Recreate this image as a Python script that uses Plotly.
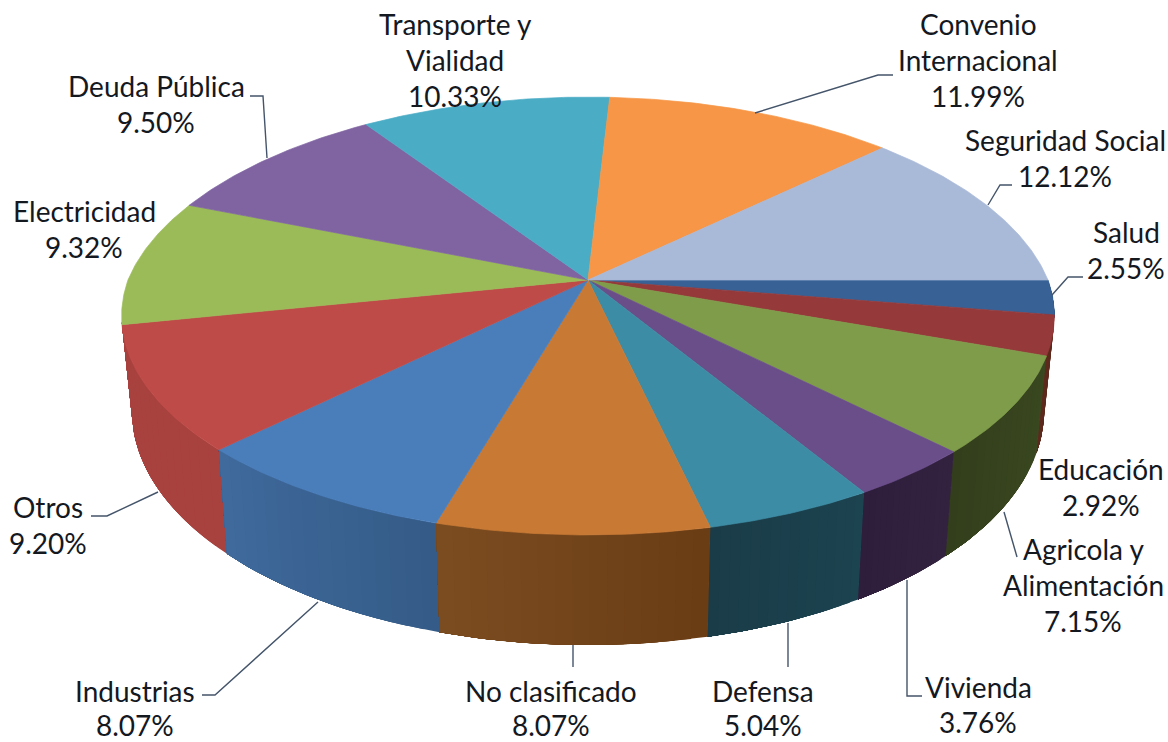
import numpy as np
import plotly.graph_objects as go

categories = [
    "Salud", "Educación", "Agricola y Alimentación", "Vivienda", "Defensa",
    "No clasificado", "Industrias", "Otros", "Electricidad", "Deuda Pública",
    "Transporte y Vialidad", "Convenio Internacional", "Seguridad Social",
]
values = [2.55, 2.92, 7.15, 3.76, 5.04, 8.07, 8.07, 9.20, 9.32, 9.50, 10.33, 11.99, 12.12]

top_colors = [
    "#386296", "#95393a", "#7f9c4a", "#6a4e8a", "#3d8ca5", "#c87a35", "#4a7ebb",
    "#be4b48", "#9bbb59", "#8064a2", "#4bacc6", "#f79646", "#a9b9d8",
]
# wall shading, left end and right end as seen on screen
wall_colors = [
    ("#2b4a70", "#2b4a70"), ("#5e2a1e", "#5e2a1e"), ("#333f1c", "#3a4820"),
    ("#2e1e3c", "#33223f"), ("#1a3c48", "#1c4350"), ("#7c4c20", "#6a3d15"),
    ("#3f6a9c", "#355c88"), ("#a8423f", "#a8423f"), ("#a8423f", "#a8423f"),
    ("#ffffff", "#ffffff"), ("#ffffff", "#ffffff"), ("#ffffff", "#ffffff"),
    ("#ffffff", "#ffffff"),
]

# text lines of each label, with the centre of the first line in pixels
label_lines = {
    "Salud": ["Salud"],
    "Educación": ["Educación"],
    "Agricola y Alimentación": ["Agricola y", "Alimentación"],
    "Vivienda": ["Vivienda"],
    "Defensa": ["Defensa"],
    "No clasificado": ["No clasificado"],
    "Industrias": ["Industrias"],
    "Otros": ["Otros"],
    "Electricidad": ["Electricidad"],
    "Deuda Pública": ["Deuda Pública"],
    "Transporte y Vialidad": ["Transporte y", "Vialidad"],
    "Convenio Internacional": ["Convenio", "Internacional"],
    "Seguridad Social": ["Seguridad Social"],
}
label_pos = {
    "Salud": (1126, 232), "Educación": (1101, 469), "Agricola y Alimentación": (1083, 549),
    "Vivienda": (978, 687), "Defensa": (763, 691), "No clasificado": (551, 691),
    "Industrias": (135, 691), "Otros": (48, 507), "Electricidad": (84, 211),
    "Deuda Pública": (156, 86), "Transporte y Vialidad": (455, 24),
    "Convenio Internacional": (978, 24), "Seguridad Social": (1065, 140),
}
# the bottom row sits a little tighter so it stays inside the page
label_gap = {"Defensa": 34, "No clasificado": 34, "Industrias": 34, "Vivienda": 35}
leaders = [
    [(755, 113), (878, 75), (893, 75)],
    [(988, 205), (1000, 185), (1012, 185)],
    [(1052, 295), (1068, 277), (1083, 277)],
    [(1004, 512), (1017, 557)],
    [(907, 580), (907, 696), (922, 696)],
    [(788, 623), (788, 667)],
    [(573, 645), (573, 667)],
    [(318, 602), (215, 695), (202, 695)],
    [(158, 492), (107, 516), (91, 516)],
    [(267, 158), (263, 96), (250, 96)],
]

CX, CY = 588, 280
RX, RY = 460, 213
PERSP = 0.1645
PERSP_BACK_X = 0.19
DEPTH = 92
SHRINK = 0.978
LINE_GAP = 36
WALL_END = np.radians(169)


def project(theta, bottom=False):
    """Clockwise angle from east to pixel position, with simple perspective."""
    s = -np.sin(theta)
    w = 1 + PERSP * s
    wx = 1 + np.where(s > 0, PERSP_BACK_X, PERSP) * s
    x = RX * np.cos(theta) / wx
    y = -RY * s / w
    if bottom:
        return CX + x * SHRINK, CY + y + DEPTH / w
    return CX + x, CY + y


def mix(c1, c2, t):
    a = [int(c1[i:i + 2], 16) for i in (1, 3, 5)]
    b = [int(c2[i:i + 2], 16) for i in (1, 3, 5)]
    return "rgb(%d,%d,%d)" % tuple(round(p + (q - p) * t) for p, q in zip(a, b))


fractions = np.cumsum([0] + values) / sum(values)
angles = fractions * 2 * np.pi

fig = go.Figure()


def add_poly(xs, ys, color, width=0.7):
    fig.add_trace(go.Scatter(
        x=xs, y=ys, mode="lines", fill="toself", fillcolor=color,
        line=dict(color=color, width=width), hoverinfo="skip", showlegend=False,
    ))


# walls, from the sides towards the front; each band runs on to the slice end
# and the next one paints over it, so no seams show between bands
visible = [i for i in range(len(values)) if angles[i] < WALL_END]
visible.sort(key=lambda i: -abs((angles[i] + angles[i + 1]) / 2 - np.pi / 2))
for i in visible:
    t0, t1 = angles[i], min(angles[i + 1], WALL_END)
    edges = np.linspace(t0, t1, 17)
    right_c, left_c = wall_colors[i][1], wall_colors[i][0]
    for k in range(16):
        th = np.linspace(t0 + (t1 - t0) * k / 16, t1, 20)
        tx, ty = project(th)
        bx, by = project(th, bottom=True)
        add_poly(
            list(tx) + list(bx[::-1]) + [tx[0]],
            list(ty) + list(by[::-1]) + [ty[0]],
            mix(right_c, left_c, (k + 0.5) / 16),
            width=0,
        )

# top faces
for i in range(len(values)):
    n = max(int(values[i] * 6), 12)
    th = np.linspace(angles[i], angles[i + 1], n)
    rx, ry = project(th)
    add_poly([CX] + list(rx) + [CX], [CY] + list(ry) + [CY], top_colors[i])

for pts in leaders:
    fig.add_trace(go.Scatter(
        x=[p[0] for p in pts], y=[p[1] for p in pts], mode="lines",
        line=dict(color="#44546a", width=1.4), hoverinfo="skip", showlegend=False,
    ))

for cat, val in zip(categories, values):
    x0, y0 = label_pos[cat]
    lines = label_lines[cat] + [f"{val:.2f}%"]
    for n, text in enumerate(lines):
        fig.add_annotation(
            x=x0, y=y0 + n * label_gap.get(cat, LINE_GAP), text=text, showarrow=False,
            xanchor="center", yanchor="middle",
            font=dict(family="Lato", size=28, color="#14181f"),
        )

fig.update_layout(
    width=1168,
    height=742,
    margin=dict(l=0, r=0, t=0, b=0),
    paper_bgcolor="white",
    plot_bgcolor="white",
    xaxis=dict(range=[0, 1168], visible=False, fixedrange=True),
    yaxis=dict(range=[742, 0], visible=False, fixedrange=True),
)

fig.write_html(
    "out.html",
    config={"displayModeBar": False},
    post_script="document.body.style.margin='0';",
)
